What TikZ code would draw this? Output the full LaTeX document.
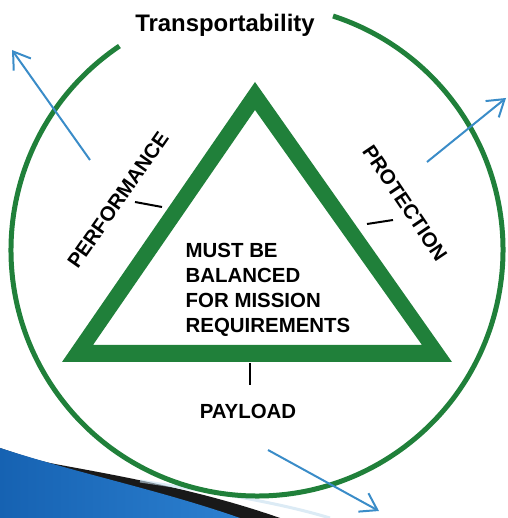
\documentclass[tikz,border=0pt]{standalone}
\usepackage{fontspec}
\setmainfont{Liberation Sans}
\usetikzlibrary{arrows.meta}
\definecolor{armygreen}{RGB}{32,128,58}
\definecolor{flowblue}{RGB}{58,140,200}
\definecolor{swooshdark}{RGB}{22,98,178}
\definecolor{swooshlight}{RGB}{44,128,208}
\begin{document}
\begin{tikzpicture}[>={Straight Barb[length=16bp,width=21bp]},line join=bevel,
  caption/.style={font=\bfseries\fontsize{20.5}{25}\selectfont,inner sep=0pt},
  flow/.style={->,draw=flowblue,line width=2bp},
  tick/.style={draw=black,line width=2bp}]
  \useasboundingbox (0bp,0bp) rectangle (508bp,518bp);
  \pgfsetlinewidth{1bp}
%%
  % Backdrop: swoosh
  \fill[black!90] (0bp,70bp) .. controls (30bp,60bp) and (40bp,57bp) .. (55bp,54bp) .. controls (120bp,42bp) and (200bp,28bp) .. (280bp,0bp) -- (0bp,0bp) -- cycle;
  \shade[left color=swooshdark,right color=swooshlight] (0bp,70bp) .. controls (80bp,44bp) and (160bp,28bp) .. (240bp,0bp) -- (0bp,0bp) -- cycle;
  \draw[line width=3bp,color=flowblue!30,opacity=0.6] (140bp,37bp) .. controls (220bp,25bp) and (280bp,15bp) .. (330bp,0bp);
  % Ring
  \draw[armygreen,line width=5bp] (257bp,268bp) ++(124:246bp) arc[start angle=124,end angle=432,radius=246bp];
  % Triangle
  \fill[armygreen,even odd rule] (255bp,436bp) -- (62bp,156bp) -- (452bp,156bp) -- cycle
    (255bp,408bp) -- (93bp,173bp) -- (422bp,173bp) -- cycle;
  % Node: Transportability
  \node (transp) at (225bp,493bp) {\bfseries\fontsize{24}{28}\selectfont Transportability};
  % Node: balance
  \node[caption,align=left] (balance) at (268bp,228bp) {MUST BE\\BALANCED\\FOR MISSION\\REQUIREMENTS};
  % Node: PAYLOAD
  \node[caption] (payload) at (248bp,107bp) {PAYLOAD};
  % Node: PERFORMANCE
  \node[caption,rotate=55] (perf) at (118bp,318bp) {PERFORMANCE};
  % Node: PROTECTION
  \node[caption,rotate=-56] (prot) at (405bp,315bp) {PROTECTION};
  % Ticks
  \coordinate (perfTickA) at (135bp,316bp);
  \coordinate (perfTickB) at (162bp,311bp);
  \coordinate (protTickA) at (367bp,294bp);
  \coordinate (protTickB) at (393bp,298bp);
  \coordinate (payTickA) at (250bp,155bp);
  \coordinate (payTickB) at (250bp,133bp);
  \draw[tick] (perfTickA) -- (perfTickB);
  \draw[tick] (protTickA) -- (protTickB);
  \draw[tick] (payTickA) -- (payTickB);
  % Edge: outward pulls
  \coordinate (pullWestIn) at (90bp,358bp);
  \coordinate (pullWestOut) at (12bp,468bp);
  \coordinate (pullEastIn) at (427bp,356bp);
  \coordinate (pullEastOut) at (506bp,420bp);
  \coordinate (pullSouthIn) at (268bp,68bp);
  \coordinate (pullSouthOut) at (379bp,7bp);
  \draw[flow] (pullWestIn) -- (pullWestOut);
  \draw[flow] (pullEastIn) -- (pullEastOut);
  \draw[flow] (pullSouthIn) -- (pullSouthOut);
%
\end{tikzpicture}
\end{document}
